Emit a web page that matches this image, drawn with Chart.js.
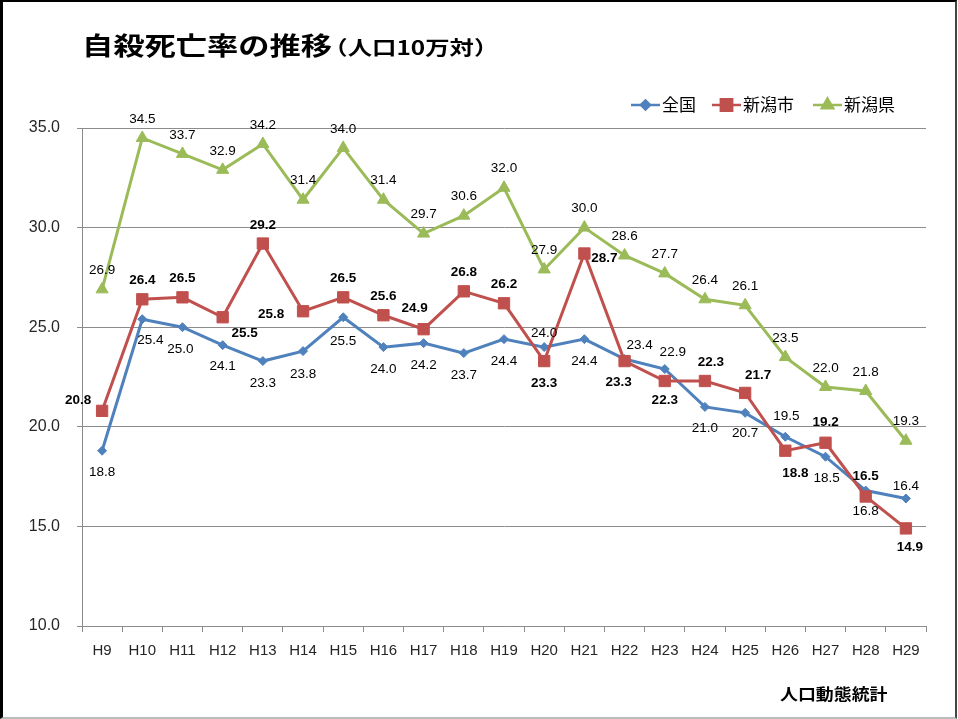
<!DOCTYPE html>
<html lang="ja">
<head>
<meta charset="utf-8">
<title>自殺死亡率の推移</title>
<script src="https://cdn.jsdelivr.net/npm/chart.js@4.4.1/dist/chart.umd.min.js"></script>
<style>
  html, body { margin: 0; padding: 0; background: #fff; }
  #wrap { position: relative; width: 958px; height: 719px; overflow: hidden; }
  #chart { position: absolute; left: 0; top: 0; }
  #frame {
    position: absolute; left: 0; top: 0; width: 957px; height: 719px; box-sizing: border-box;
    border-top: 2px solid #000; border-left: 3px solid #000;
    border-right: 2px solid #444; border-bottom: 2px solid #bbb;
    pointer-events: none;
  }
  #title {
    position: absolute; left: 82px; top: 32px; white-space: nowrap;
    font-family: "Noto Sans CJK JP", sans-serif; font-weight: 700; color: #000;
    font-size: 25px; line-height: 25px;
    transform: scaleX(1.25); transform-origin: left top;
  }
  #title span { font-size: 19.5px; margin-left: -7px; }
  #source {
    position: absolute; left: 780px; top: 684px; white-space: nowrap;
    font-family: "Noto Sans CJK JP", sans-serif; font-weight: 700; color: #000;
    font-size: 16px; line-height: 18px;
    transform: scaleX(1.12); transform-origin: left top;
  }
</style>
</head>
<body>
<div id="wrap">
  <canvas id="chart" width="958" height="719"></canvas>
  <div id="title">自殺死亡率の推移<span>（人口10万対）</span></div>
  <div id="source">人口動態統計</div>
  <div id="frame"></div>
</div>
<script>
// 年度 (平成)
const categories = ['H9', 'H10', 'H11', 'H12', 'H13', 'H14', 'H15', 'H16', 'H17', 'H18', 'H19',
  'H20', 'H21', 'H22', 'H23', 'H24', 'H25', 'H26', 'H27', 'H28', 'H29'];

// 自殺死亡率 (人口10万対)
const zenkoku = [18.8, 25.4, 25.0, 24.1, 23.3, 23.8, 25.5, 24.0, 24.2, 23.7, 24.4,
  24.0, 24.4, 23.4, 22.9, 21.0, 20.7, 19.5, 18.5, 16.8, 16.4];
const niigataShi = [20.8, 26.4, 26.5, 25.5, 29.2, 25.8, 26.5, 25.6, 24.9, 26.8, 26.2,
  23.3, 28.7, 23.3, 22.3, 22.3, 21.7, 18.8, 19.2, 16.5, 14.9];
const niigataKen = [26.9, 34.5, 33.7, 32.9, 34.2, 31.4, 34.0, 31.4, 29.7, 30.6, 32.0,
  27.9, 30.0, 28.6, 27.7, 26.4, 26.1, 23.5, 22.0, 21.8, 19.3];

const yTicks = [10, 15, 20, 25, 30, 35];
const seriesNames = ['全国', '新潟市', '新潟県'];

// label placement (pixel offset from each point), kept apart from the values
const zenkokuLabelPos = [[0, 22], [8, 21], [-2, 22], [0, 21], [0, 22], [0, 23], [0, 24], [0, 22], [0, 22], [0, 22], [0, 22],
  [0, -14], [0, 22], [15, -14], [8, -17], [0, 21], [0, 20], [1, -20], [1, 22], [0, 21], [0, -12]];
const shiLabelPos = [[-24, -11], [0, -19], [0, -19], [22, 16], [0, -18], [-32, 3], [0, -19], [0, -19], [-9, -21], [0, -19], [0, -19],
  [0, 22], [20, 5], [-6, 21], [0, 19], [6, -19], [13, -18], [10, 23], [0, -20], [0, -20], [4, 19]];
const kenLabelPos = categories.map(() => [0, -19]);

const COLORS = { blue: '#4F81BD', red: '#C0504D', green: '#9BBB59', grid: '#8c8c8c', text: '#262626' };
const NUM_FONT = '"Liberation Sans", Arial, sans-serif';

// data labels next to every point
const pointLabels = {
  id: 'pointLabels',
  afterDatasetsDraw(chart) {
    const ctx = chart.ctx;
    ctx.save();
    ctx.textAlign = 'center';
    ctx.textBaseline = 'middle';
    ctx.fillStyle = '#000';
    chart.data.datasets.forEach((ds, i) => {
      const meta = chart.getDatasetMeta(i);
      ctx.font = (ds.labelBold ? 'bold ' : '') + '13.5px ' + NUM_FONT;
      meta.data.forEach((pt, j) => {
        const off = ds.labelPos[j];
        ctx.fillText(ds.data[j].toFixed(1), pt.x + off[0], pt.y + off[1]);
      });
    });
    ctx.restore();
  }
};

// Excel-like legend: short line with marker, then the name
const lineLegend = {
  id: 'lineLegend',
  afterDraw(chart) {
    const ctx = chart.ctx;
    const y = 105;
    const starts = [631, 712, 813];
    ctx.save();
    ctx.font = '17px "Noto Sans CJK JP", sans-serif';
    ctx.textBaseline = 'middle';
    ctx.textAlign = 'left';
    chart.data.datasets.forEach((ds, i) => {
      const x0 = starts[i];
      ctx.strokeStyle = ds.borderColor;
      ctx.lineWidth = 2.5;
      ctx.beginPath();
      ctx.moveTo(x0, y);
      ctx.lineTo(x0 + 29, y);
      ctx.stroke();
      ctx.fillStyle = ds.borderColor;
      ctx.strokeStyle = ds.borderColor;
      Chart.helpers.drawPoint(ctx, {
        pointStyle: ds.pointStyle,
        radius: ds.legendRadius,
        rotation: 0,
        borderWidth: 1
      }, x0 + 14.5, y);
      ctx.fillStyle = '#000';
      ctx.fillText(ds.label, x0 + 31, y);
    });
    ctx.restore();
  }
};

const ctx = document.getElementById('chart').getContext('2d');
new Chart(ctx, {
  type: 'line',
  data: {
    labels: categories,
    datasets: [
      {
        label: seriesNames[0],
        data: zenkoku,
        labelPos: zenkokuLabelPos,
        labelBold: false,
        borderColor: COLORS.blue,
        backgroundColor: COLORS.blue,
        borderWidth: 3,
        pointStyle: 'rectRot',
        pointRadius: 4.5,
        legendRadius: 4.5,
        pointBorderWidth: 1,
        tension: 0,
        order: 3
      },
      {
        label: seriesNames[1],
        data: niigataShi,
        labelPos: shiLabelPos,
        labelBold: true,
        borderColor: COLORS.red,
        backgroundColor: COLORS.red,
        borderWidth: 3,
        pointStyle: 'rect',
        pointRadius: 8,
        legendRadius: 8,
        pointBorderWidth: 1,
        tension: 0,
        order: 2
      },
      {
        label: seriesNames[2],
        data: niigataKen,
        labelPos: kenLabelPos,
        labelBold: false,
        borderColor: COLORS.green,
        backgroundColor: COLORS.green,
        borderWidth: 3,
        pointStyle: 'triangle',
        pointRadius: 7,
        legendRadius: 6.5,
        pointBorderWidth: 1,
        tension: 0,
        order: 1
      }
    ]
  },
  options: {
    responsive: false,
    animation: false,
    events: [],
    layout: { padding: { top: 128, right: 32, left: 0, bottom: 0 } },
    plugins: {
      legend: { display: false },
      tooltip: { enabled: false },
      title: { display: false }
    },
    scales: {
      x: {
        offset: true,
        grid: { display: true, drawOnChartArea: false, offset: true, tickLength: 6, color: COLORS.grid },
        border: { color: COLORS.grid, width: 1 },
        ticks: {
          autoSkip: false, maxRotation: 0, padding: 10, color: COLORS.text,
          font: { family: NUM_FONT, size: 15 }
        },
        afterFit(scale) { scale.height = 93; }
      },
      y: {
        min: 10,
        max: 35,
        grid: { color: COLORS.grid, tickLength: 5, lineWidth: 1 },
        border: { color: COLORS.grid, width: 1 },
        ticks: {
          padding: 17, color: COLORS.text,
          font: { family: NUM_FONT, size: 16 },
          callback: v => v.toFixed(1)
        },
        afterBuildTicks(scale) { scale.ticks = yTicks.map(v => ({ value: v })); },
        afterFit(scale) { scale.width = 82; }
      }
    }
  },
  plugins: [pointLabels, lineLegend]
});
</script>
</body>
</html>
